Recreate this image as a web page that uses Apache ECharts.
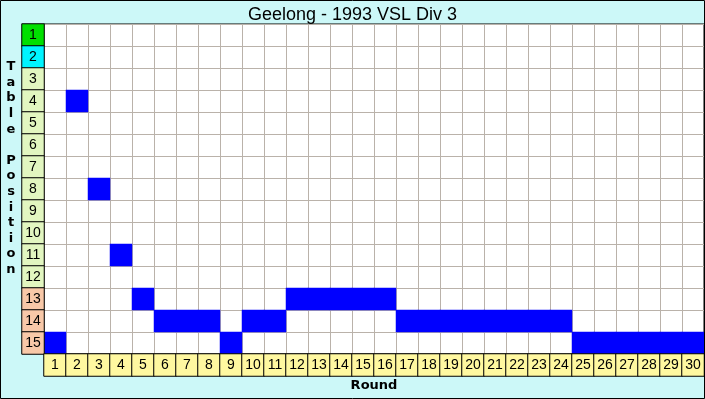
<!DOCTYPE html>
<html><head><meta charset="utf-8">
<script src="https://cdn.jsdelivr.net/npm/echarts@6/dist/echarts.min.js"></script>
<style>html,body{margin:0;padding:0;background:#ccf8f8}#c{width:705px;height:399px}</style>
</head><body><div id="c"></div>
<script>
const title = 'Geelong - 1993 VSL Div 3';
const rounds = ['1','2','3','4','5','6','7','8','9','10','11','12','13','14','15','16','17','18','19','20','21','22','23','24','25','26','27','28','29','30'];
const positions = ['1','2','3','4','5','6','7','8','9','10','11','12','13','14','15'];
const ladderPosition = [15,4,8,11,13,14,14,14,15,14,14,13,13,13,13,13,14,14,14,14,14,14,14,14,15,15,15,15,15,15];
const yAxisTitle = 'Table Position';
const xAxisTitle = 'Round';

function zoneColor(p){
  if (p === 1) return '#00e000';
  if (p === 2) return '#00f4ff';
  if (p >= 13) return '#f8c8a8';
  return '#e2f6c0';
}
const font = 'Liberation Sans';
const boldFont = 'DejaVu Sans';
const chart = echarts.init(document.getElementById('c'));
chart.setOption({
  backgroundColor: '#ccf8f8',
  animation: false,
  title: { text: title, left: 'center', top: 1, textStyle: { fontFamily: font, fontSize: 18, fontWeight: 'normal', color: '#000' } },
  grid: [
    { left: 44, top: 24, width: 660, height: 330, show: true, borderColor: '#000', borderWidth: 1, backgroundColor: '#fff' },
    { left: 22, top: 24, width: 22, height: 330 },
    { left: 44, top: 354, width: 660, height: 22 }
  ],
  xAxis: [
    { type: 'category', data: rounds, gridIndex: 0, axisLine: {show:false}, axisTick:{show:false}, axisLabel:{show:false}, splitLine:{show:true, lineStyle:{color:'#bab2aa', width:1}} },
    { type: 'category', data: ['p'], gridIndex: 1, show: false },
    { type: 'category', data: rounds, gridIndex: 2, show: false }
  ],
  yAxis: [
    { type: 'category', data: positions, inverse: true, gridIndex: 0, axisLine: {show:false}, axisTick:{show:false}, axisLabel:{show:false}, splitLine:{show:true, lineStyle:{color:'#bab2aa', width:1}} },
    { type: 'category', data: positions, inverse: true, gridIndex: 1, show: false },
    { type: 'category', data: ['r'], gridIndex: 2, show: false }
  ],
  series: [
    { type: 'heatmap', xAxisIndex: 0, yAxisIndex: 0,
      data: ladderPosition.map((p,i)=>({ value:[i, p-1, p], itemStyle:{color:'#0000ff'} })),
      itemStyle: { color: '#0000ff' } },
    { type: 'heatmap', xAxisIndex: 1, yAxisIndex: 1,
      data: positions.map((p,i)=>({ value:[0, i, +p], itemStyle:{color: zoneColor(+p), borderColor:'#000', borderWidth:1} })),
      label: { show: true, formatter: (d)=>positions[d.value[1]], fontFamily: font, fontSize: 14, color: '#000' } },
    { type: 'heatmap', xAxisIndex: 2, yAxisIndex: 2,
      data: rounds.map((r,i)=>({ value:[i, 0, +r], itemStyle:{color:'#fff8a0', borderColor:'#000', borderWidth:1} })),
      label: { show: true, formatter: (d)=>rounds[d.value[0]], fontFamily: font, fontSize: 14, color: '#000' } }
  ],
  graphic: [
    { type: 'text', x: 11, y: 59, style: { text: yAxisTitle.split('').join('\n'), font: 'bold 13px ' + boldFont, fill: '#000', lineHeight: 15.6, align: 'center', verticalAlign: 'top' } },
    { type: 'text', x: 374, y: 379, style: { text: xAxisTitle, font: 'bold 13px ' + boldFont, fill: '#000', align: 'center', verticalAlign: 'top' } },
    { type: 'rect', shape: { x: 0.5, y: 0.5, width: 704, height: 398 }, style: { fill: 'none', stroke: '#000', lineWidth: 1 }, z: 100 }
  ]
});
</script></body></html>
